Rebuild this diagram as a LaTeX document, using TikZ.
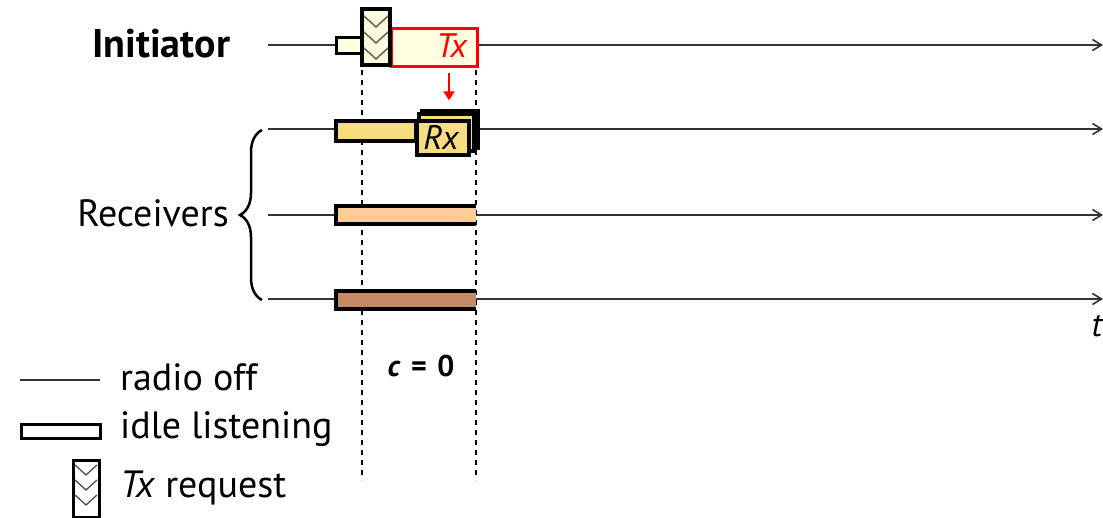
\documentclass[tikz,border=0pt]{standalone}
\usepackage{fontspec}
\setmainfont{PT Sans}
\usetikzlibrary{arrows.meta,decorations.pathreplacing}
\definecolor{idlefill}{HTML}{FFFFE0}
\definecolor{rxfill}{HTML}{F8DC80}
\definecolor{r2fill}{HTML}{FFCC99}
\definecolor{r3fill}{HTML}{C48A65}
\definecolor{axisgray}{HTML}{333333}
\tikzset{
  axisline/.style={draw=axisgray,line width=1.8pt,-{Straight Barb[length=9pt,width=11pt,line width=1.6pt]}},
  offline/.style={draw=axisgray,line width=1.8pt},
  bar/.style={draw=black,line width=3.5pt,line join=miter},
  guide/.style={draw=black,line width=1.2pt,dash pattern=on 5pt off 5pt},
  lbl/.style={font=\fontsize{38}{42}\selectfont,inner sep=0pt},
  chevron/.style={draw=gray!80!black,line width=1.6pt},
}
\begin{document}
\begin{tikzpicture}[x=1pt,y=-1pt]
\useasboundingbox (0,0) rectangle (1103,517);
% axes
\coordinate (a0s) at (268,45); \coordinate (a0e) at (1103,45);
\coordinate (a1s) at (268,129); \coordinate (a1e) at (1103,129);
\coordinate (a2s) at (268,215); \coordinate (a2e) at (1103,215);
\coordinate (a3s) at (268,299); \coordinate (a3e) at (1103,299);
\draw[axisline] (a0s) -- (a0e);
\draw[axisline] (a1s) -- (a1e);
\draw[axisline] (a2s) -- (a2e);
\draw[axisline] (a3s) -- (a3e);
% guides
\coordinate (g1t) at (362,60); \coordinate (g1b) at (362,480);
\coordinate (g2t) at (476,60); \coordinate (g2b) at (476,480);
\draw[guide] (g1t) -- (g1b);
\draw[guide] (g2t) -- (g2b);
% initiator
\node[lbl,anchor=west,font=\fontsize{40}{44}\selectfont\bfseries] (init) at (92,44) {Initiator};
\draw[bar,fill=idlefill,line width=3pt] (336,37) rectangle (362,53);
\node[draw=red,line width=3pt,fill=idlefill,minimum width=86pt,minimum height=38pt,anchor=north west,inner sep=0pt] (tx) at (390,27) {};
\node[text=red,font=\fontsize{34}{38}\selectfont\itshape,anchor=east,inner sep=0pt] (txl) at (467,46) {Tx};
\draw[bar,fill=idlefill] (362,9) rectangle (390,65);
\begin{scope}[chevron]
\draw (364,16) -- (376,27) -- (388,16);
\draw (364,32) -- (376,43) -- (388,32);
\draw (364,48) -- (376,59) -- (388,48);
\end{scope}
\node[inner sep=0pt] (arrs) at (449,72) {};
\node[inner sep=0pt] (arre) at (449,101) {};
\draw[red,line width=2.5pt,-{Triangle[length=9pt,width=11pt]}] (arrs) -- (arre);
% rx row
\draw[bar,fill=rxfill] (336,121) rectangle (416,141);
\draw[bar,fill=rxfill] (422,111) rectangle (478,148);
\draw[bar,fill=rxfill] (419,114) rectangle (474,151);
\node[bar,fill=rxfill,minimum width=52pt,minimum height=34pt,anchor=north west,inner sep=0pt] (rx) at (415,119) {};
\node[font=\fontsize{34}{38}\selectfont\itshape,inner sep=0pt] (rxl) at (441,137) {Rx};
% receivers 2 and 3
\fill[r2fill] (336,206) rectangle (476,224);
\draw[bar] (476,206) -- (336,206) -- (336,224) -- (476,224);
\fill[r3fill] (336,291) rectangle (476,309);
\draw[bar] (476,291) -- (336,291) -- (336,309) -- (476,309);
% brace
\coordinate (bt) at (262,130); \coordinate (bb) at (262,300);
\draw[line width=2.5pt,decorate,decoration={brace,amplitude=22pt,aspect=0.5}] (bb) -- (bt);
\node[lbl,anchor=east] (recv) at (229,213) {Receivers};
% labels
\node[inner sep=0pt,font=\fontsize{30}{34}\selectfont\bfseries] (c0) at (421,366) {\textit{c}\hspace{0.35em}=\hspace{0.35em}0};
\node[inner sep=0pt,font=\fontsize{34}{38}\selectfont\itshape] (t) at (1097,326) {t};
% legend
\coordinate (l1s) at (20,380); \coordinate (l1e) at (100,380);
\draw[offline] (l1s) -- (l1e);
\node[lbl,anchor=west] (lr) at (120,377) {radio off};
\draw[bar,line width=3pt] (21,424) rectangle (100,438);
\node[lbl,anchor=west] (li) at (120,429) {idle listening};
\draw[line width=3pt] (73,460) rectangle (99,517);
\begin{scope}[chevron,line width=1.3pt,draw=black!70]
\draw (75,465) -- (86,475) -- (97,465);
\draw (75,480) -- (86,490) -- (97,480);
\draw (75,495) -- (86,505) -- (97,495);
\end{scope}
\node[lbl,anchor=west] (lt) at (120,488) {\textit{Tx} request};
\end{tikzpicture}
\end{document}
